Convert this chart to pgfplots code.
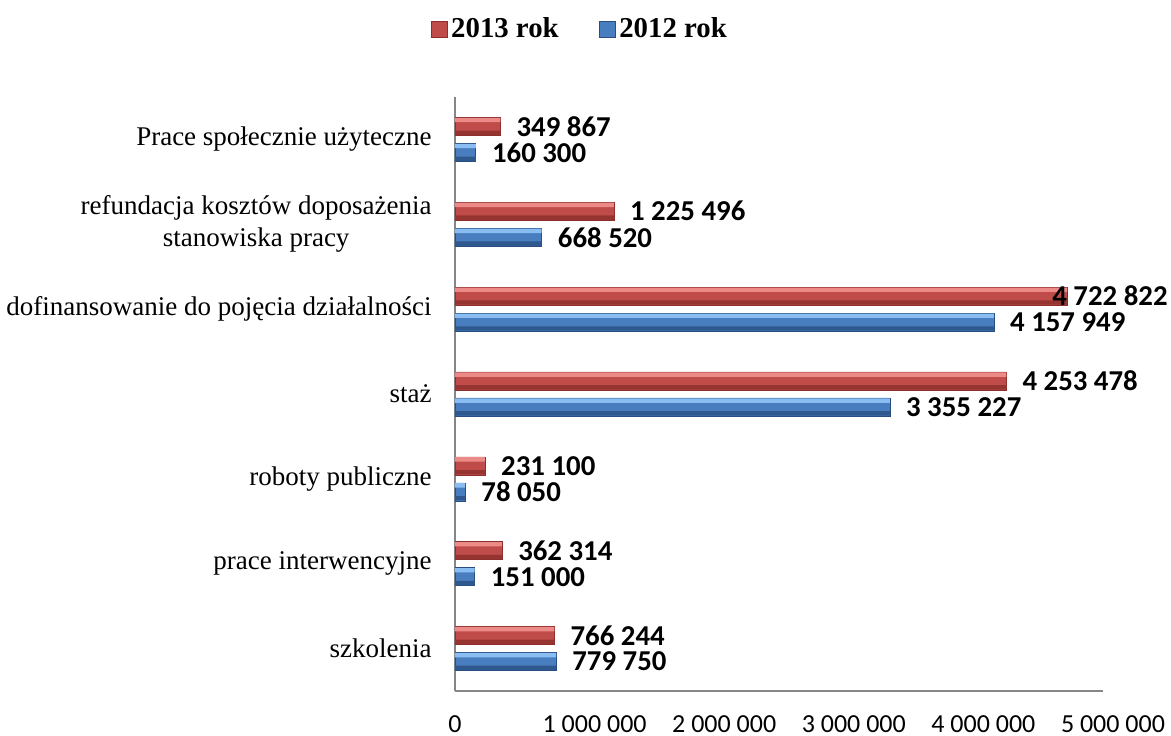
\documentclass[border=0pt]{standalone}
\usepackage{pgfplots}
\pgfplotsset{compat=1.18}
\usepackage{pgfplotstable}
\usepackage{fontspec}
\setmainfont{Liberation Serif}
\newfontfamily\calibri{Carlito}
\definecolor{redmain}{RGB}{192,76,73}
\definecolor{redlight}{RGB}{236,138,136}
\definecolor{reddark}{RGB}{140,46,44}
\definecolor{bluemain}{RGB}{72,126,192}
\definecolor{bluelight}{RGB}{138,190,242}
\definecolor{bluedark}{RGB}{40,78,130}
\definecolor{axgray}{RGB}{134,134,134}

% 2013 rok
\pgfplotstableread{
y v lbl
0 766244 {766 244}
1 362314 {362 314}
2 231100 {231 100}
3 4253478 {4 253 478}
4 4722822 {\hspace*{-15.5pt}4 722 822}
5 1225496 {1 225 496}
6 349867 {349 867}
}\tA
% 2012 rok
\pgfplotstableread{
y v lbl
0 779750 {779 750}
1 151000 {151 000}
2 78050 {78 050}
3 3355227 {3 355 227}
4 4157949 {4 157 949}
5 668520 {668 520}
6 160300 {160 300}
}\tB

\begin{document}
\begin{tikzpicture}
\begin{axis}[
  scale only axis,
  width=324pt, height=297pt,
  xbar,
  xmin=0, xmax=5000000,
  ymin=-0.5, ymax=6.5,
  clip=false,
  axis lines*=left,
  axis line style={axgray, line width=0.8pt},
  major tick length=0pt,
  tick style={draw=none},
  scaled x ticks=false,
  xtick={1000000,2000000,3000000,4000000,5000000},
  xticklabels={1 000 000,2 000 000,3 000 000,4 000 000,5 000 000},
  extra x ticks={0},
  extra x tick labels={0},
  extra x tick style={xticklabel style={xshift=-5pt}},
  xticklabel style={font=\calibri\fontsize{13}{15}\selectfont, anchor=north, inner sep=0pt, yshift=-12pt, xshift=5pt},
  ytick={0,1,2,3,4,5,6},
  yticklabels={szkolenia,prace interwencyjne,roboty publiczne,staż,dofinansowanie do pojęcia działalności,{refundacja kosztów doposażenia\\stanowiska pracy},Prace społecznie użyteczne},
  yticklabel style={font=\fontsize{13.5}{16}\selectfont, align=center, inner sep=0pt, anchor=east, xshift=-11.5pt},
  legend image code/.code={\draw[#1] (0pt,-4pt) rectangle (8pt,4pt);},
  legend columns=2,
  legend style={draw=none, fill=none, at={(axis description cs:0.194,1.1145)}, anchor=center,
    font=\bfseries\fontsize{14.4}{16}\selectfont,
    /tikz/every even column/.append style={column sep=18pt}},
  nodes near coords style={font=\calibri\bfseries\fontsize{14.4}{16}\selectfont, anchor=west, inner sep=0pt, xshift=8pt, text=black},
]
% 2013 rok: main bar with labels
\addplot[bar width=9pt, bar shift=6.5pt, draw=reddark, line width=0.3pt, fill=redmain,
  point meta=explicit symbolic, nodes near coords]
  table[x=v,y=y,meta=lbl]{\tA};
\addlegendentry{2013 rok}
% 2012 rok: main bar with labels
\addplot[bar width=9pt, bar shift=-6.5pt, draw=bluedark, line width=0.3pt, fill=bluemain,
  point meta=explicit symbolic, nodes near coords]
  table[x=v,y=y,meta=lbl]{\tB};
\addlegendentry{2012 rok}
% bevel highlights / shades
\addplot[forget plot, bar width=2.2pt, bar shift=9.7pt, draw=none, fill=redlight] table[x=v,y=y]{\tA};
\addplot[forget plot, bar width=2.2pt, bar shift=3.3pt, draw=none, fill=reddark!80!redmain] table[x=v,y=y]{\tA};
\addplot[forget plot, bar width=2.2pt, bar shift=-3.3pt, draw=none, fill=bluelight] table[x=v,y=y]{\tB};
\addplot[forget plot, bar width=2.2pt, bar shift=-9.7pt, draw=none, fill=bluedark!80!bluemain] table[x=v,y=y]{\tB};
\coordinate (SW) at (rel axis cs:0,0);
\coordinate (NE) at (rel axis cs:1,1);
\end{axis}
\pgfresetboundingbox
\path[use as bounding box] ([shift={(-227.5pt,-22.5pt)}]SW) rectangle ([shift={(34pt,48.5pt)}]NE);
\end{tikzpicture}
\end{document}
